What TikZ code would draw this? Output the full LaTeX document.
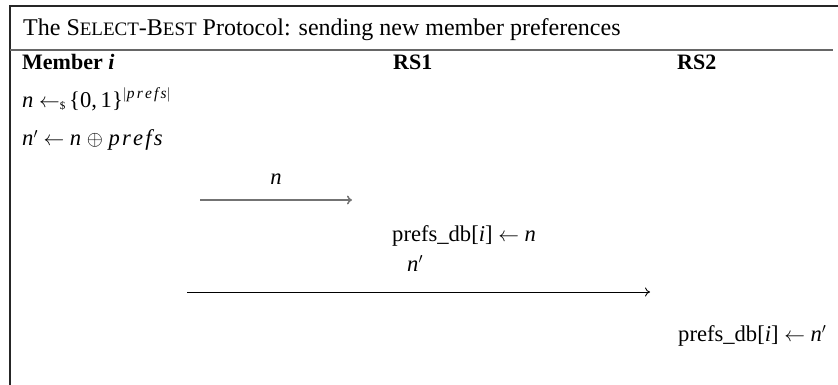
\documentclass[tikz,border=0pt]{standalone}
\usepackage{fontspec}
\setmainfont{Liberation Serif}
\usetikzlibrary{arrows.meta}
% fake small capitals and italic variables in the text face
\newcommand{\fakesc}[1]{{\fontsize{19}{22}\selectfont #1}}
\newcommand{\vr}[1]{\textit{#1}}
\newcommand{\prm}{\ensuremath{'}}
\newcommand{\prefsvar}{\vr{p\kern2.2pt r\kern2.2pt e\kern2.2pt f\kern2.2pt s}}
\begin{document}
\begin{tikzpicture}[x=1pt,y=-1pt,
  txt/.style={anchor=base west,inner sep=0pt,font=\fontsize{22.6}{27}\selectfont},
  hdr/.style={txt,font=\fontsize{22}{26}\selectfont\bfseries},
  ttl/.style={anchor=base west,inner sep=0pt,font=\fontsize{24}{28}\selectfont},
  msg/.style={-{To[length=5pt,width=9pt]}},
  frame/.style={line width=1.1pt,black!85}]
  \useasboundingbox (0,0) rectangle (838,385);
  % open frame and title rule
  \draw[frame] (10,385) -- (10,6) -- (838,6);
  \draw[line width=1.6pt,black!60] (10,50) -- (833,50);
  \node[ttl] (title) at (23,36) {The S\fakesc{ELECT}-B\fakesc{EST} Protocol: sending new member preferences};
  % parties
  \node[hdr] (member) at (22,70) {Member \textit{i}};
  \node[hdr] (rsone) at (393,70) {RS1};
  \node[hdr] (rstwo) at (677,70) {RS2};
  % member computations
  \node[txt] (sample) at (22,108) {\vr{n} $\leftarrow$\raisebox{-2pt}{\fontsize{11}{11}\selectfont\$}\,\{0,\,1\}\raisebox{9pt}{\fontsize{15.5}{15}\selectfont$|$\prefsvar$|$}};
  \node[txt] (mask) at (22,146) {\vr{n}\prm\ $\leftarrow$ \vr{n} $\oplus$ \prefsvar};
  % first message
  \coordinate (m1a) at (200,200);
  \coordinate (m1b) at (352,200);
  \node[txt,anchor=base] (lab1) at (276,184) {\vr{n}};
  \draw[msg,black!55,line width=1.5pt] (m1a) -- (m1b);
  \node[txt] (store1) at (392,241) {prefs\_db[\vr{i}] $\leftarrow$ \vr{n}};
  % second message
  \node[txt] (lab2) at (407,271) {\vr{n}\prm};
  \coordinate (m2a) at (187,292);
  \coordinate (m2b) at (650,292);
  \draw[msg,black,line width=0.9pt] (m2a) -- (m2b);
  \node[txt] (store2) at (678,341) {prefs\_db[\vr{i}] $\leftarrow$ \vr{n}\prm};
\end{tikzpicture}
\end{document}
